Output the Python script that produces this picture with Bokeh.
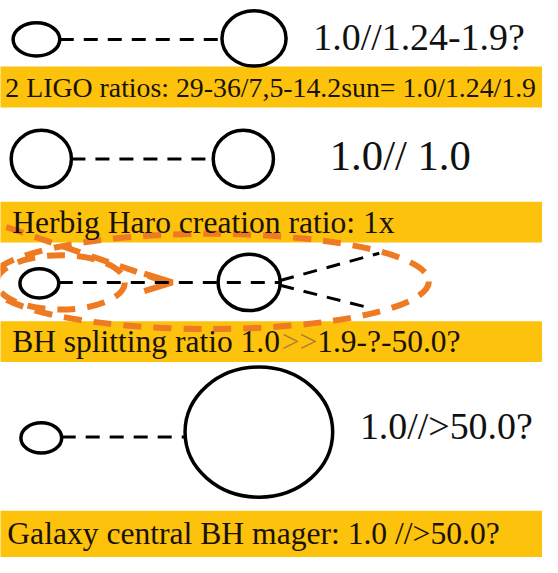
from bokeh.plotting import figure
from bokeh.models import Range1d
from bokeh.core.properties import value
from bokeh.embed import file_html
from bokeh.resources import INLINE

# ---- data (diagram values, in reference-picture pixels) ----
band_top = [68, 207, 330, 525]
band_bottom = [110, 249, 372, 580]
band_texts = [
    "2 LIGO ratios: 29-36/7,5-14.2sun= 1.0/1.24/1.9",
    "Herbig Haro creation ratio: 1x",
    "BH splitting ratio 1.0",
    "Galaxy central BH mager: 1.0 //>50.0?",
]
band_text_x = [5, 12, 12, 7]
band_baseline = [100, 240, 362, 560]
band_font = [28.6, 32.5, 32.4, 32.5]

# circles: centre x, centre y, width, height
circle_x = [37, 261, 42, 250, 40, 256, 42, 266]
circle_y = [40, 39, 163, 163, 291, 290, 450, 444]
circle_w = [48, 66, 62, 62, 40, 64, 42, 152]
circle_h = [34, 57, 59, 59, 30, 58, 31, 134]

# black dashed connectors
dash_x0 = [61, 73, 60, 288, 288, 63]
dash_y0 = [40, 163, 290, 288, 293, 449]
dash_x1 = [228, 219, 288, 390, 383, 190]
dash_y1 = [40, 163, 290, 260, 317, 449]

# ratio labels beside the circles
ratio_texts = ["1.0//1.24-1.9?", "1.0// 1.0", "1.0//>50.0?"]
ratio_x = [322, 339, 370]
ratio_baseline = [52, 175, 452]
ratio_font = [39, 44, 39]

split_parts = [">>", "1.9-?-50.0?"]

REF_W, REF_H = 558, 573
W, H = 542, 557
S = W / REF_W  # screen px per reference px

p = figure(width=W, height=H, output_backend="svg", toolbar_location=None,
           x_range=Range1d(0, REF_W), y_range=Range1d(REF_H, 0),
           min_border=0, background_fill_color="white", border_fill_color="white")
p.axis.visible = False
p.grid.visible = False
p.outline_line_color = None

YELLOW = "#FCC20C"
ORANGE = "#EE7A22"
SERIF = value("Liberation Serif")
K = 0.36  # baseline correction (fraction of font size)


def label(x, base, txt, font, color):
    p.text(x=[x], y=[base - K * font], text=[txt], text_font=SERIF,
           text_font_size=f"{font * S:.1f}px", text_color=color,
           text_baseline="alphabetic", text_align="left")


p.quad(left=[-10] * 4, right=[600] * 4, top=band_top, bottom=band_bottom,
       fill_color=YELLOW, line_color=None)

# orange dashed loops (row 3)
p.ellipse(x=[215], y=[289], width=[452], height=[98], fill_color=None,
          line_color=ORANGE, line_width=6, line_dash="18 12")
p.ellipse(x=[62], y=[290], width=[132], height=[56], fill_color=None,
          line_color=ORANGE, line_width=6, line_dash="18 12")
p.segment(x0=[6], y0=[233], x1=[166], y1=[288], line_color=ORANGE,
          line_width=6, line_dash="18 12")
p.line(x=[148, 177, 148], y=[281, 290, 299], line_color=ORANGE, line_width=6)

# black connectors
p.segment(x0=dash_x0, y0=dash_y0, x1=dash_x1, y1=dash_y1, line_color="black",
          line_width=3, line_dash="14 10")

p.ellipse(x=circle_x, y=circle_y, width=circle_w, height=circle_h,
          fill_color=None, line_color="black", line_width=3.5)

for t, x, b, f in zip(ratio_texts, ratio_x, ratio_baseline, ratio_font):
    label(x, b, t, f, "#111111")

for t, x, b, f in zip(band_texts, band_text_x, band_baseline, band_font):
    label(x, b, t, f, "#1a1208")

# band 3 continuation (">>" in orange-brown); offsets from Times metrics
f3 = band_font[2]
x_gt = band_text_x[2] + 8.501 * f3 + 2
label(x_gt, band_baseline[2], split_parts[0], f3, "#B07A3A")
label(x_gt + 1.128 * f3, band_baseline[2], split_parts[1], f3, "#1a1208")

open("out.html", "w").write(file_html(p, INLINE))
